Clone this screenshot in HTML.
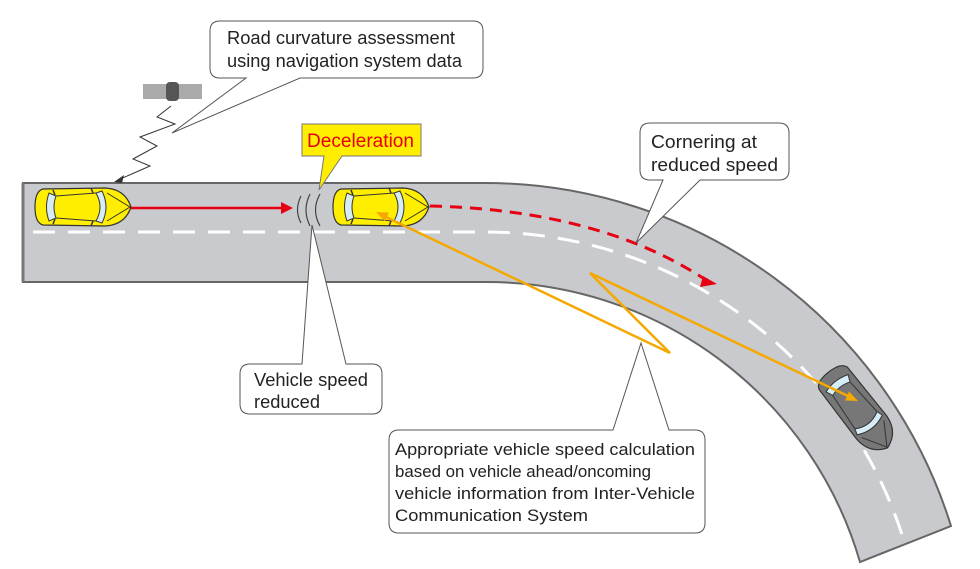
<!DOCTYPE html>
<html><head><meta charset="utf-8"><style>
html,body{margin:0;padding:0;background:#fff;width:980px;height:569px;overflow:hidden}
svg text{font-family:"Liberation Sans",Arial,sans-serif;font-size:18px;fill:#222}
</style></head><body>
<svg width="980" height="569" viewBox="0 0 980 569" xmlns="http://www.w3.org/2000/svg">
<defs>
<g id="car">
  <path d="M8,1 L70,0 Q90,1 96,19 Q90,37 70,38 L8,37 Q0,35 0,19 Q0,3 8,1 Z" fill="#ffee00" stroke="#333" stroke-width="1.2"/>
  <path d="M14,5 Q9,19 14,33 L21,30 Q17,19 21,8 Z" fill="#d6ecf6" stroke="#333" stroke-width="1"/>
  <path d="M61,5 Q69,19 61,33 L67,35 Q75,19 67,3 Z" fill="#d6ecf6" stroke="#333" stroke-width="1"/>
  <path d="M21,8 L61,5 M21,30 L61,33" stroke="#333" stroke-width="1" fill="none"/>
  <path d="M72,5 L95,19 L72,33" stroke="#333" stroke-width="1" fill="none"/>
  <path d="M56,0 L58,5 M56,38 L58,33 M18,2 L20,7 M18,36 L20,31" stroke="#333" stroke-width="1.5"/>
</g>
<g id="gcar">
  <path d="M8,1 L70,0 Q90,1 96,19 Q90,37 70,38 L8,37 Q0,35 0,19 Q0,3 8,1 Z" fill="#777" stroke="#333" stroke-width="1.2"/>
  <path d="M14,5 Q9,19 14,33 L21,30 Q17,19 21,8 Z" fill="#d6ecf6" stroke="#333" stroke-width="1"/>
  <path d="M61,5 Q69,19 61,33 L67,35 Q75,19 67,3 Z" fill="#d6ecf6" stroke="#333" stroke-width="1"/>
  <path d="M21,8 L61,5 M21,30 L61,33 M72,5 L95,19 L72,33" stroke="#333" stroke-width="1" fill="none"/>
</g>
</defs>
<!-- road -->
<path d="M23,183 L485,183 A488,488 0 0 1 951,526 L860,562 A389,389 0 0 0 485,282 L23,282 Z" fill="#c9cacd" stroke="#666" stroke-width="2"/>
<path d="M23,183 L23,282" stroke="#777" stroke-width="3"/>
<path d="M33,232 L485,232 A439,439 0 0 1 905,544" fill="none" stroke="#fff" stroke-width="3" stroke-dasharray="22,13"/>
<!-- cars -->
<use href="#car" transform="translate(35,188)"/>
<use href="#car" transform="translate(333,188)"/>
<use href="#gcar" transform="translate(858,410) rotate(52) translate(-48,-19)"/>
<!-- red arrow -->
<path d="M131,208 L284,208" stroke="#e60012" stroke-width="2.5"/>
<path d="M293,208 L281,202 L281,214 Z" fill="#e60012"/>
<path d="M430,206 Q600,210 706,280" fill="none" stroke="#e60012" stroke-width="3" stroke-dasharray="12,8"/>
<path d="M717,284 L703,276 L700,287 Z" fill="#e60012"/>
<!-- waves -->
<path d="M301,196 Q294,210 301,223 M310,194 Q302,210 310,226 M320,194 Q311,210 320,226" fill="none" stroke="#444" stroke-width="1.2"/>
<!-- orange -->
<path d="M386,217 L670,353 L590,273 L848,396" fill="none" stroke="#f5a800" stroke-width="2.5"/>
<path d="M376,212 L389,212.5 L385,221.5 Z" fill="#f5a800"/>
<path d="M858,401 L849,391.5 L845,400.5 Z" fill="#f5a800"/>
<!-- satellite -->
<rect x="143" y="84" width="24" height="15" fill="#aaa"/>
<rect x="178" y="84" width="24" height="15" fill="#aaa"/>
<rect x="166" y="82" width="13" height="19" rx="4" fill="#555"/>
<path d="M171,106 L157,117 L175,124 L140,137 L157,146 L133,159 L150,166 L118,180" fill="none" stroke="#333" stroke-width="1"/>
<path d="M114,182 L124,175 L122,183 Z" fill="#333"/>
<!-- callout 1 -->
<path d="M220,21 L473,21 Q483,21 483,31 L483,68 Q483,78 473,78 L300,78 L172,133 L246,78 L220,78 Q210,78 210,68 L210,31 Q210,21 220,21 Z" fill="#fff" stroke="#555" stroke-width="1"/>
<text x="227" y="44" textLength="228" lengthAdjust="spacingAndGlyphs">Road curvature assessment</text>
<text x="227" y="67" textLength="235" lengthAdjust="spacingAndGlyphs">using navigation system data</text>
<!-- deceleration -->
<path d="M302,124 L421,124 L421,156 L342,156 L319,190 L324,156 L302,156 Z" fill="#ffee00" stroke="#777" stroke-width="1"/>
<text x="307" y="147" textLength="107" lengthAdjust="spacingAndGlyphs" style="fill:#e60012;font-size:19px">Deceleration</text>
<!-- cornering -->
<path d="M650,123 L779,123 Q789,123 789,133 L789,170 Q789,180 779,180 L700,180 L636,243 L663,180 L650,180 Q640,180 640,170 L640,133 Q640,123 650,123 Z" fill="#fff" stroke="#555" stroke-width="1"/>
<text x="651" y="148" textLength="106" lengthAdjust="spacingAndGlyphs">Cornering at</text>
<text x="651" y="171" textLength="127" lengthAdjust="spacingAndGlyphs">reduced speed</text>
<!-- vehicle speed reduced -->
<path d="M250,364 L302,364 L312,225 L346,364 L372,364 Q382,364 382,374 L382,404 Q382,414 372,414 L250,414 Q240,414 240,404 L240,374 Q240,364 250,364 Z" fill="#fff" stroke="#555" stroke-width="1"/>
<text x="254" y="386" textLength="114" lengthAdjust="spacingAndGlyphs">Vehicle speed</text>
<text x="254" y="408" textLength="66" lengthAdjust="spacingAndGlyphs">reduced</text>
<!-- appropriate -->
<path d="M399,430 L613,430 L641,343 L669,430 L695,430 Q705,430 705,440 L705,523 Q705,533 695,533 L399,533 Q389,533 389,523 L389,440 Q389,430 399,430 Z" fill="#fff" stroke="#555" stroke-width="1"/>
<text x="395" y="455" textLength="300" lengthAdjust="spacingAndGlyphs" style="font-size:17px">Appropriate vehicle speed calculation</text>
<text x="395" y="477" textLength="256" lengthAdjust="spacingAndGlyphs" style="font-size:17px">based on vehicle ahead/oncoming</text>
<text x="395" y="499" textLength="300" lengthAdjust="spacingAndGlyphs" style="font-size:17px">vehicle information from Inter-Vehicle</text>
<text x="395" y="521" textLength="193" lengthAdjust="spacingAndGlyphs" style="font-size:17px">Communication System</text>
</svg>
</body></html>
